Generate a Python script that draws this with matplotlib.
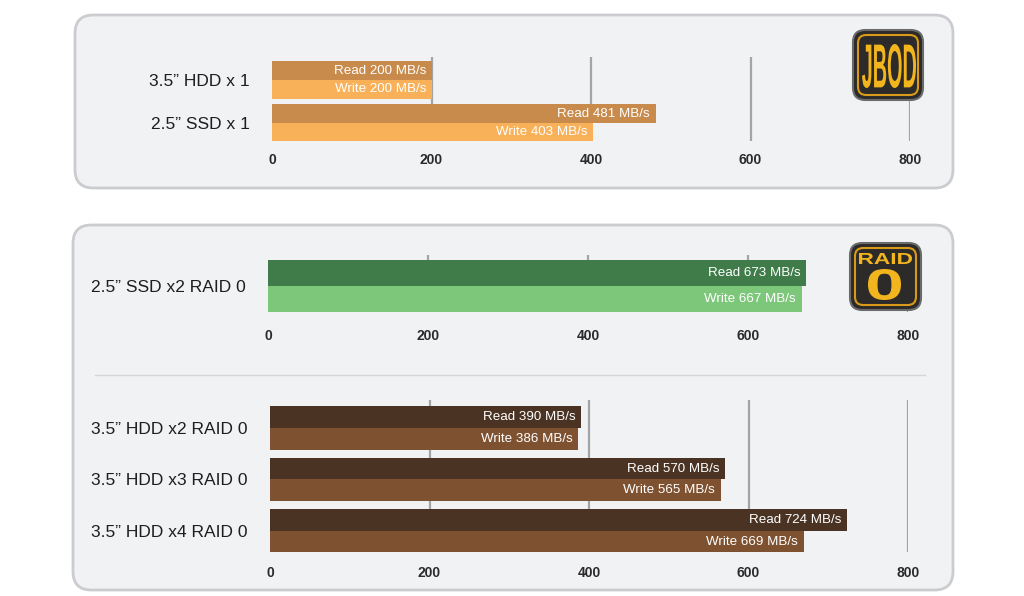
import matplotlib
matplotlib.use("Agg")
import matplotlib.pyplot as plt
from matplotlib.patches import FancyBboxPatch, PathPatch
from matplotlib.textpath import TextPath
from matplotlib.font_manager import FontProperties
from matplotlib.path import Path
import numpy as np

plt.rcParams['font.family'] = ['Liberation Sans', 'DejaVu Sans']

# data
jbod_cats = ["3.5\u201d HDD x 1", "2.5\u201d SSD x 1"]
jbod_read = [200, 481]
jbod_write = [200, 403]

ssd_cats = ["2.5\u201d SSD x2 RAID 0"]
ssd_read = [673]
ssd_write = [667]

hdd_cats = ["3.5\u201d HDD x2 RAID 0", "3.5\u201d HDD x3 RAID 0", "3.5\u201d HDD x4 RAID 0"]
hdd_read = [390, 570, 724]
hdd_write = [386, 565, 669]

ticks = [0, 200, 400, 600, 800]

W, H = 1024, 596
fig = plt.figure(figsize=(W / 100, H / 100), dpi=100)
fig.patch.set_facecolor("white")


def rect(left, top, right, bottom):
    return [left / W, 1 - bottom / H, (right - left) / W, (bottom - top) / H]


def box(left, top, right, bottom, rs=0.018, **kw):
    p = FancyBboxPatch((left / W, 1 - bottom / H), (right - left) / W, (bottom - top) / H,
                       boxstyle=f"round,pad=0,rounding_size={rs}", transform=fig.transFigure,
                       mutation_aspect=W / H, **kw)
    fig.patches.append(p)
    return p


def fitted_text(s, left, top, right, bottom, color, weight="bold", zorder=7):
    # text stretched to fill a pixel box (for the condensed badge lettering)
    tp = TextPath((0, 0), s, size=10, prop=FontProperties(family="Liberation Sans", weight=weight))
    ext = tp.get_extents()
    v = tp.vertices.copy()
    v[:, 0] = left + (v[:, 0] - ext.x0) / ext.width * (right - left)
    v[:, 1] = bottom - (v[:, 1] - ext.y0) / ext.height * (bottom - top)
    v[:, 0] /= W
    v[:, 1] = 1 - v[:, 1] / H
    fig.patches.append(PathPatch(Path(v, tp.codes), facecolor=color, edgecolor="none",
                                 transform=fig.transFigure, zorder=zorder))


# panel backgrounds
box(75, 15, 953, 188, facecolor="#f1f2f4", edgecolor="#cbcccf", lw=2, zorder=-2)
box(73, 225, 953, 590, facecolor="#f1f2f4", edgecolor="#cbcccf", lw=2, zorder=-2)
fig.add_artist(plt.Line2D([95 / W, 925 / W], [1 - 375 / H, 1 - 375 / H],
                          transform=fig.transFigure, color="#d4d5d8", lw=1, zorder=-1))


def draw_panel(ax, cats, reads, writes, c_read, c_write, bh, ylim, pad):
    y = np.arange(len(cats))
    ax.set_facecolor("none")
    for v in [200, 400, 600, 800]:
        ax.axvline(v, color="#a3a4a6", lw=1.6, zorder=0)
    ax.barh(y - bh / 2, reads, height=bh, color=c_read, zorder=2)
    ax.barh(y + bh / 2, writes, height=bh, color=c_write, zorder=2)
    for i in y:
        ax.annotate(f"Read {reads[i]} MB/s", (reads[i], i - bh / 2), xytext=(-4, 0),
                    textcoords="offset points", ha="right", va="center",
                    color="white", fontsize=9.6, zorder=3)
        ax.annotate(f"Write {writes[i]} MB/s", (writes[i], i + bh / 2), xytext=(-4, 0),
                    textcoords="offset points", ha="right", va="center",
                    color="white", fontsize=9.6, zorder=3)
    ax.set_xlim(0, 800)
    ax.set_ylim(*ylim)
    ax.set_xticks(ticks)
    ax.set_xticklabels([str(t) for t in ticks], fontsize=10, color="#2a2a2a", fontweight="bold")
    ax.set_yticks(y)
    ax.set_yticklabels(cats, fontsize=12.5, color="#1e1e1e")
    ax.tick_params(axis="both", length=0)
    ax.tick_params(axis="x", pad=pad)
    ax.tick_params(axis="y", pad=16)
    for s in ax.spines.values():
        s.set_visible(False)


ax1 = fig.add_axes(rect(272, 57, 910, 141))
draw_panel(ax1, jbod_cats, jbod_read, jbod_write, "#c98b4c", "#f8b159", 0.44, (1.42, -0.535), 9)

ax2 = fig.add_axes(rect(268, 255, 908, 312))
draw_panel(ax2, ssd_cats, ssd_read, ssd_write, "#3f7c49", "#7dc77b", 0.5, (0.5, -0.6), 12)

ax3 = fig.add_axes(rect(270, 400, 908, 552))
draw_panel(ax3, hdd_cats, hdd_read, hdd_write, "#4a3322", "#7e5230", 0.42, (2.41, -0.545), 10)


# badges
def badge(left, top, right, bottom):
    box(left, top, right, bottom, rs=0.012, facecolor="#2c2b29", edgecolor="#6a6a6a", lw=1.5, zorder=5)
    box(left + 5, top + 5, right - 5, bottom - 5, rs=0.008, facecolor="#2c2b29",
        edgecolor="#d99a1a", lw=1.5, zorder=6)


badge(853, 30, 923, 100)
fitted_text("JBOD", 862, 44, 916, 88, "#f2b51e")

badge(850, 243, 921, 310)
fitted_text("RAID", 859, 253, 912, 264, "#f2b51e")
fitted_text("0", 868, 269, 901, 300, "#f2b51e")

fig.savefig("out.png", dpi=100, facecolor="white")
